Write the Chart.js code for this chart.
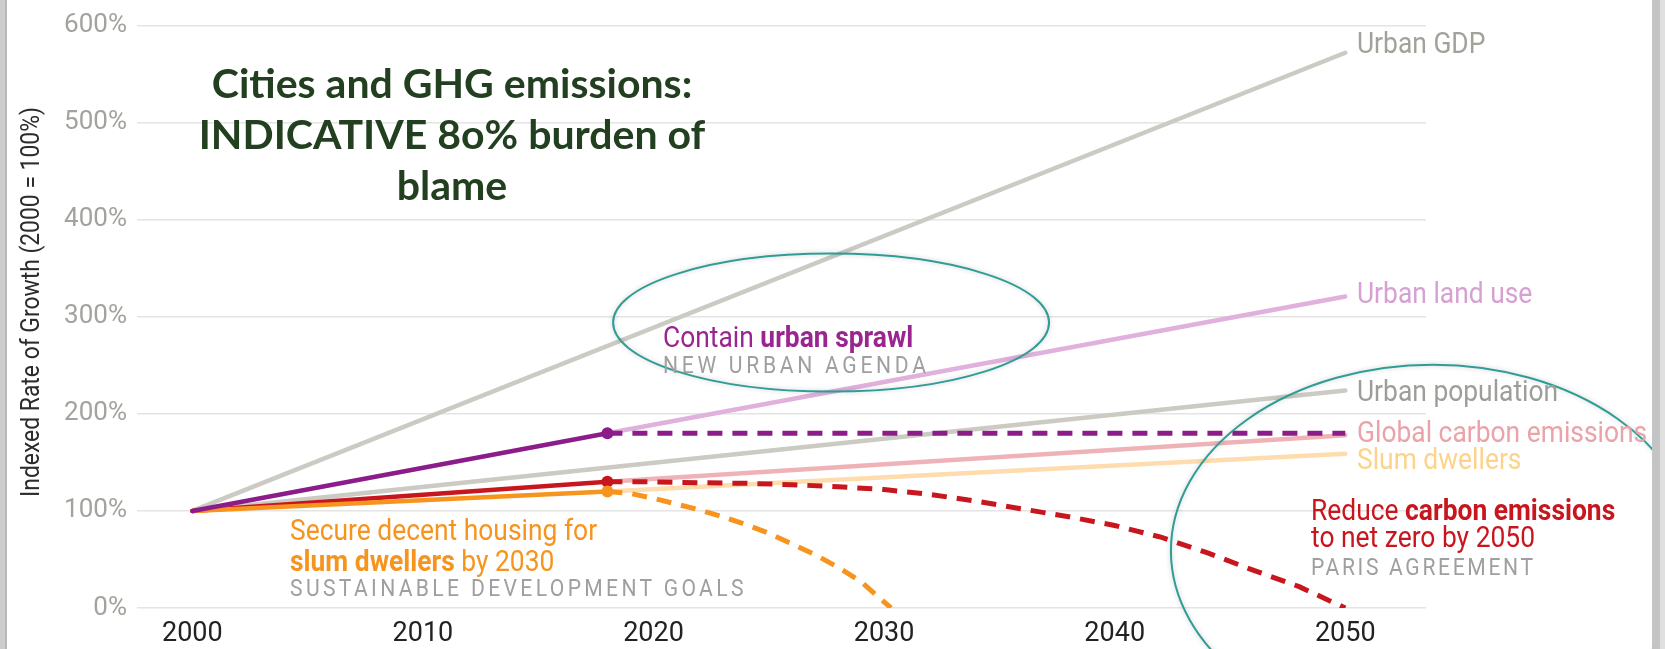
<!DOCTYPE html>
<html>
<head>
<meta charset="utf-8">
<script src="https://cdn.jsdelivr.net/npm/chart.js@4.4.1/dist/chart.umd.min.js"></script>
<style>
  body { margin: 0; background: #fff; }
  #wrap { position: relative; width: 1665px; height: 649px; overflow: hidden; background: #fff; }
  #chart { position: absolute; left: 0; top: 0; }
  .edge { position: absolute; top: 0; height: 649px; }
  .note {
    position: absolute; white-space: nowrap;
    font-family: Roboto, "Liberation Sans", sans-serif;
    font-size: 30px; line-height: 30px;
    transform: scaleX(0.88); transform-origin: 0 50%;
  }
  .note b { font-weight: 700; }
  .sub { font-size: 24px; line-height: 24px; color: #9f9f9f; }
  #title {
    position: absolute; left: 152px; top: 57px; width: 600px; text-align: center; white-space: nowrap;
    font-family: Lato, "Open Sans", sans-serif; font-weight: 700;
    font-size: 41px; line-height: 51px; color: #223f1f;
  }
  #ytitle {
    position: absolute; left: -220px; top: 287px; width: 500px; text-align: center;
    font-family: Roboto, sans-serif; font-size: 26px; line-height: 30px; color: #2c2c2c;
    transform: rotate(-90deg) scaleX(0.88); transform-origin: 50% 50%;
  }
</style>
</head>
<body>
<div id="wrap">
  <canvas id="chart" width="1665" height="649"></canvas>

  <div class="edge" style="left:0;width:7px;background:linear-gradient(to right,#cdcdcd 0 5px,#b9b9b9 5px);"></div>
  <div class="edge" style="left:1652px;width:13px;background:linear-gradient(to right,#c4c4c4 0 8px,#e0e0e0 8px);"></div>

  <div id="title">Cities and GHG emissions:<br>INDICATIVE 8o% burden of<br>blame</div>
  <div id="ytitle">Indexed Rate of Growth (2000 = 100%)</div>

  <!-- series names at the line ends -->
  <div class="note" style="left:1357px;top:28px;color:#a2a29b">Urban GDP</div>
  <div class="note" style="left:1357px;top:278px;color:#d6a1d2">Urban land use</div>
  <div class="note" style="left:1357px;top:376px;color:#9e9e98">Urban population</div>
  <div class="note" style="left:1357px;top:417px;color:#e9a3a9">Global carbon emissions</div>
  <div class="note" style="left:1357px;top:444px;color:#fdd38a">Slum dwellers</div>

  <!-- targets -->
  <div class="note" style="left:663px;top:322px;color:#9a2590">Contain <b>urban sprawl</b></div>
  <div class="note sub" style="left:663px;top:353px;letter-spacing:4.2px">NEW URBAN AGENDA</div>

  <div class="note" style="left:290px;top:515px;color:#f7941d">Secure decent housing for</div>
  <div class="note" style="left:290px;top:546px;color:#f7941d"><b>slum dwellers</b> by 2030</div>
  <div class="note sub" style="left:290px;top:576px;letter-spacing:3.8px">SUSTAINABLE DEVELOPMENT GOALS</div>

  <div class="note" style="left:1311px;top:495px;color:#c8161e">Reduce <b>carbon emissions</b></div>
  <div class="note" style="left:1311px;top:522px;color:#c8161e">to net zero by 2050</div>
  <div class="note sub" style="left:1311px;top:555px;letter-spacing:3px">PARIS AGREEMENT</div>
</div>

<script>
// ----- Data -----
const yearTicks = [2000, 2010, 2020, 2030, 2040, 2050];
const pctTicks = [0, 100, 200, 300, 400, 500, 600];

// trends 2000 -> 2050
const gdpYears = [2000, 2050];
const urbanGdp = [100, 572];
const popYears = [2000, 2050];
const urbanPopulation = [100, 224];

// observed 2000 -> 2018, then projected to 2050
const observedYears = [2000, 2018];
const projectedYears = [2018, 2050];
const landUseObserved = [100, 180];
const landUseProjected = [180, 321];
const carbonObserved = [100, 130];
const carbonProjected = [130, 178];
const slumObserved = [100, 120];
const slumProjected = [120, 159];

// policy targets
const sprawlTargetYears = [2018, 2050];
const sprawlTarget = [180, 180];
const carbonTargetYears = [2018, 2020, 2022, 2024, 2026, 2028, 2030, 2032, 2034, 2036, 2038, 2040, 2042, 2044, 2046, 2048, 2050];
const carbonTarget = [130, 130, 129, 128.5, 127, 125, 122, 117, 110, 102, 94, 85, 73, 57, 39, 22, 0];
const slumTargetYears = [2018, 2019, 2020, 2021, 2022, 2023, 2024, 2025, 2026, 2027, 2028, 2029, 2030.3];
const slumTarget = [120, 118, 113, 107, 101, 94, 86, 77, 66, 55, 42, 27, 0];

// ----- Helpers -----
function pts(xs, ys) {
  return xs.map((x, i) => ({ x: x, y: ys[i] }));
}

function solid(data, color, order) {
  return {
    data: data, borderColor: color, borderWidth: 4.5, borderCapStyle: "round",
    pointRadius: 0, order: order,
  };
}

function observed(data, color) {
  return {
    data: data, borderColor: color, borderWidth: 4.5, borderCapStyle: "round",
    pointRadius: [0, 6], pointBackgroundColor: color, pointBorderWidth: 0, order: 0,
  };
}

function dashed(data, color) {
  return {
    data: data, borderColor: color, borderWidth: 5, borderDash: [15, 10],
    pointRadius: 0, order: 1,
  };
}

// ----- Ellipse highlights -----
const highlights = [
  { year: 2027.7, value: 294, rx: 218, ry: 69 },
  { year: 2053.8, value: 59, rx: 262, ry: 186 },
];

const ellipsePlugin = {
  id: "highlights",
  afterDraw(chart) {
    const { ctx, scales } = chart;
    ctx.save();
    ctx.strokeStyle = "#2f9c96";
    ctx.lineWidth = 2;
    ctx.shadowColor = "rgba(0,0,0,0.22)";
    ctx.shadowBlur = 5;
    highlights.forEach((h) => {
      ctx.beginPath();
      ctx.ellipse(scales.x.getPixelForValue(h.year), scales.y.getPixelForValue(h.value), h.rx, h.ry, 0, 0, Math.PI * 2);
      ctx.stroke();
    });
    ctx.restore();
  },
};

// ----- Chart -----
const datasets = [
  observed(pts(observedYears, landUseObserved), "#8d1c8b"),
  observed(pts(observedYears, slumObserved), "#f7941d"),
  observed(pts(observedYears, carbonObserved), "#c8161e"),
  dashed(pts(sprawlTargetYears, sprawlTarget), "#8d1c8b"),
  dashed(pts(carbonTargetYears, carbonTarget), "#c8161e"),
  dashed(pts(slumTargetYears, slumTarget), "#f7941d"),
  solid(pts(projectedYears, slumProjected), "#fedcae", 2),
  solid(pts(projectedYears, carbonProjected), "#efb3b7", 2),
  solid(pts(projectedYears, landUseProjected), "#e0b1dc", 2),
  solid(pts(popYears, urbanPopulation), "#cbcbc3", 3),
  solid(pts(gdpYears, urbanGdp), "#cbcbc3", 3),
];

new Chart(document.getElementById("chart"), {
  type: "line",
  data: { datasets: datasets },
  options: {
    responsive: false,
    animation: false,
    layout: { padding: { top: 20, right: 239, left: 0, bottom: 0 } },
    plugins: { legend: { display: false }, tooltip: { enabled: false } },
    elements: { line: { tension: 0 } },
    scales: {
      x: {
        type: "linear", min: 1997.6, max: 2053.5,
        grid: { display: false, drawTicks: false },
        border: { display: false },
        afterBuildTicks: (s) => { s.ticks = yearTicks.map((v) => ({ value: v })); },
        afterFit: (s) => { s.height = 41; },
        ticks: {
          padding: 10, color: "#222", autoSkip: false, maxRotation: 0,
          font: { family: "Roboto", size: 27 },
          callback: (v) => String(v),
        },
      },
      y: {
        min: 0, max: 600,
        grid: { color: "#e4e4e4", lineWidth: 1.5, drawTicks: false },
        border: { display: false },
        afterBuildTicks: (s) => { s.ticks = pctTicks.map((v) => ({ value: v })); },
        afterFit: (s) => { s.width = 137; },
        ticks: {
          padding: 10, color: "#a3a39d",
          font: { family: "Roboto", size: 26 },
          callback: (v) => v + "%",
        },
      },
    },
  },
  plugins: [ellipsePlugin],
});
</script>
</body>
</html>
